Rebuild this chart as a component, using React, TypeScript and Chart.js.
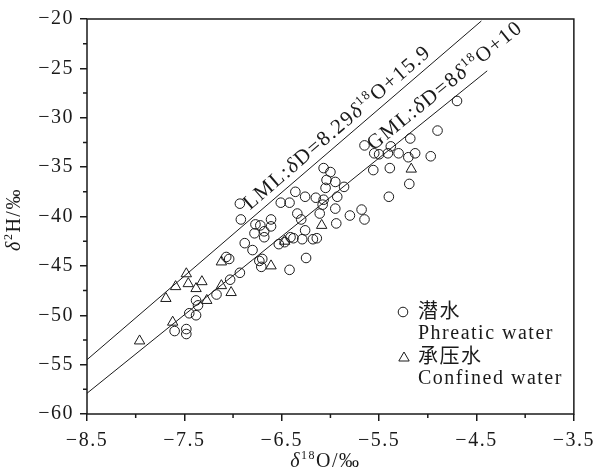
import React, { useEffect, useRef } from 'react';
import { Chart, registerables } from 'chart.js';

Chart.register(...registerables);

const FONT = '"Liberation Serif", "Times New Roman", "Noto Sans CJK SC", serif';
const INK = '#1a1a1a';

// 潜水 Phreatic water
const phreaticX = [
  -7.60, -7.48, -7.48, -7.45, -7.38, -7.38, -7.36, -7.17, -7.03, -6.93, -7.07, -7.04, -6.88, -6.80, -6.73, -6.70, -6.71, -6.78, -6.68, -6.53, -6.42, -6.41, -6.38,
  -6.93, -6.92, -6.77, -6.72, -6.61, -6.61, -6.68, -6.47,
  -6.36, -6.26, -6.51, -6.42, -6.34, -6.30, -6.29, -6.18, -6.26, -6.25, -6.15, -6.07, -6.07, -6.00, -6.04, -5.95, -5.86, -6.05, -5.93, -6.08, -5.95, -6.11, -5.80, -5.68, -5.65, -5.94, -6.14,
  -5.65, -5.55, -5.50, -5.56, -5.41, -5.38, -5.30, -5.20, -5.13, -4.97, -5.39, -5.19, -5.40, -4.70, -4.90, -5.18,
];
const phreaticY = [
  -51.6, -51.4, -51.9, -49.8, -50.0, -48.5, -49.0, -47.9, -46.4, -45.7, -44.1, -44.3, -42.7, -43.4, -44.5, -44.3, -45.1, -41.7, -42.1, -42.8, -45.4, -42.1, -42.2,
  -38.7, -40.3, -40.8, -40.9, -40.3, -41.0, -41.5, -42.6,
  -37.5, -38.0, -38.6, -38.6, -39.7, -40.3, -42.3, -42.3, -41.4, -44.2, -38.1, -38.3, -35.1, -35.5, -36.3, -36.5, -37.0, -37.1, -38.0, -38.8, -39.2, -39.7, -39.9, -39.3, -40.3, -40.7, -42.2,
  -32.8, -33.6, -33.7, -35.3, -33.6, -32.9, -33.6, -34.0, -33.6, -33.9, -35.1, -36.7, -38.0, -28.3, -31.3, -32.1,
];

// 承压水 Confined water
const confinedX = [-7.96, -7.69, -7.62, -7.59, -7.48, -7.46, -7.38, -7.32, -7.27, -7.12, -7.02, -7.12, -6.61, -6.47, -6.09, -5.17];
const confinedY = [-52.6, -48.3, -50.7, -47.1, -45.8, -46.8, -47.3, -46.6, -48.5, -47.0, -47.7, -44.6, -45.0, -42.5, -40.9, -35.2];

// Reference lines (end points)
const lmlX = [-8.5, -4.45];
const lmlY = [-54.5, -20.2];
const gmlX = [-8.5, -4.39];
const gmlY = [-57.9, -25.25];

const xTicks = [-8.5, -7.5, -6.5, -5.5, -4.5, -3.5];
const xMinorTicks = [-8, -7, -6, -5, -4];
const yTicks = [-60, -55, -50, -45, -40, -35, -30, -25, -20];
const yMinorTicks = [-57.5, -52.5, -47.5, -42.5, -37.5, -32.5, -27.5, -22.5];

const legendZh = ['潜水', '承压水'];
const legendEn = ['Phreatic water', 'Confined water'];

type Seg = { t: string; it?: boolean; sup?: boolean };

const lmlLabel: Seg[] = [
  { t: 'LML:' }, { t: 'δ', it: true }, { t: 'D=8.29' }, { t: 'δ', it: true }, { t: '18', sup: true }, { t: 'O+15.9' },
];
const gmlLabel: Seg[] = [
  { t: 'GML:' }, { t: 'δ', it: true }, { t: 'D=8' }, { t: 'δ', it: true }, { t: '18', sup: true }, { t: 'O+10' },
];
const xTitle: Seg[] = [{ t: 'δ', it: true }, { t: '18', sup: true }, { t: 'O/‰' }];
const yTitle: Seg[] = [{ t: 'δ', it: true }, { t: '2', sup: true }, { t: 'H/‰' }];

const zip = (xs: number[], ys: number[]) => xs.map((v, i) => ({ x: v, y: ys[i] }));
const fmt = (v: number) => String(v).replace('-', '\u2212');

function drawRich(ctx: any, segs: Seg[], x: number, y: number, size: number, align: 'left' | 'center') {
  const fontFor = (s: Seg) => `${s.it ? 'italic ' : ''}${s.sup ? Math.round(size * 0.6) : size}px ${FONT}`;
  let total = 0;
  const widths = segs.map((s) => {
    ctx.font = fontFor(s);
    const w = ctx.measureText(s.t).width;
    total += w;
    return w;
  });
  let cx = align === 'center' ? x - total / 2 : x;
  segs.forEach((s, i) => {
    ctx.font = fontFor(s);
    ctx.fillText(s.t, cx, s.sup ? y - size * 0.38 : y);
    cx += widths[i];
  });
}

const decor = {
  id: 'decor',
  beforeDraw(chart: any) {
    chart.ctx.letterSpacing = '1.5px';
  },
  afterDraw(chart: any) {
    const { ctx, chartArea: a, scales } = chart;
    const xs = scales.x;
    const ys = scales.y;
    ctx.save();
    ctx.letterSpacing = '1.5px';
    ctx.strokeStyle = INK;
    ctx.lineWidth = 1.5;
    ctx.strokeRect(a.left, a.top, a.right - a.left, a.bottom - a.top);

    ctx.beginPath();
    xMinorTicks.forEach((v) => {
      const px = xs.getPixelForValue(v);
      ctx.moveTo(px, a.bottom);
      ctx.lineTo(px, a.bottom + 4);
    });
    yMinorTicks.forEach((v) => {
      const py = ys.getPixelForValue(v);
      ctx.moveTo(a.left, py);
      ctx.lineTo(a.left - 4, py);
    });
    ctx.stroke();

    ctx.fillStyle = INK;
    ctx.textBaseline = 'alphabetic';
    ctx.textAlign = 'left';

    // axis titles
    drawRich(ctx, xTitle, (a.left + a.right) / 2 - 5, 467, 20, 'center');
    ctx.save();
    ctx.translate(20, (a.top + a.bottom) / 2 + 3);
    ctx.rotate(-Math.PI / 2);
    drawRich(ctx, yTitle, 0, 0, 20, 'center');
    ctx.restore();

    // line labels
    const labels = [
      { lx: lmlX, ly: lmlY, segs: lmlLabel, start: -6.78, gap: 7 },
      { lx: gmlX, ly: gmlY, segs: gmlLabel, start: -5.5, gap: 9 },
    ];
    labels.forEach((L) => {
      const p0x = xs.getPixelForValue(L.lx[0]);
      const p0y = ys.getPixelForValue(L.ly[0]);
      const p1x = xs.getPixelForValue(L.lx[1]);
      const p1y = ys.getPixelForValue(L.ly[1]);
      const sx = xs.getPixelForValue(L.start);
      const t = (sx - p0x) / (p1x - p0x);
      const ay = p0y + t * (p1y - p0y);
      const ang = Math.atan2(p1y - p0y, p1x - p0x);
      ctx.save();
      ctx.translate(sx, ay);
      ctx.rotate(ang);
      drawRich(ctx, L.segs, 0, -L.gap, 21, 'left');
      ctx.restore();
    });

    // legend
    ctx.lineWidth = 1;
    ctx.beginPath();
    ctx.arc(403, 312, 4.8, 0, Math.PI * 2);
    ctx.stroke();
    ctx.beginPath();
    const tr = 6;
    const tcx = 404;
    const tcy = 358;
    ctx.moveTo(tcx, tcy - tr);
    ctx.lineTo(tcx + tr * 0.866, tcy + tr * 0.5);
    ctx.lineTo(tcx - tr * 0.866, tcy + tr * 0.5);
    ctx.closePath();
    ctx.stroke();
    ctx.textBaseline = 'middle';
    ctx.font = `20px ${FONT}`;
    ctx.fillText(legendZh[0], 418, 313);
    ctx.fillText(legendEn[0], 418, 334);
    ctx.fillText(legendZh[1], 418, 358);
    ctx.fillText(legendEn[1], 418, 379);
    ctx.restore();
  },
};

export default function App() {
  const ref = useRef<HTMLCanvasElement | null>(null);
  useEffect(() => {
    if (!ref.current) return;
    const chart = new Chart(ref.current, {
      type: 'scatter',
      data: {
        datasets: [
          {
            label: 'LML',
            data: zip(lmlX, lmlY),
            showLine: true,
            borderColor: INK,
            borderWidth: 1,
            pointRadius: 0,
            fill: false,
          },
          {
            label: 'GML',
            data: zip(gmlX, gmlY),
            showLine: true,
            borderColor: INK,
            borderWidth: 1,
            pointRadius: 0,
            fill: false,
          },
          {
            label: legendEn[0],
            data: zip(phreaticX, phreaticY),
            pointStyle: 'circle',
            pointRadius: 4.8,
            borderColor: INK,
            borderWidth: 1,
            backgroundColor: 'rgba(0,0,0,0)',
          },
          {
            label: legendEn[1],
            data: zip(confinedX, confinedY),
            pointStyle: 'triangle',
            pointRadius: 6,
            borderColor: INK,
            borderWidth: 1,
            backgroundColor: 'rgba(0,0,0,0)',
          },
        ],
      },
      options: {
        animation: false,
        responsive: true,
        maintainAspectRatio: false,
        layout: { padding: { top: 19, right: 21, left: 0, bottom: 0 } },
        plugins: { legend: { display: false }, tooltip: { enabled: false } },
        scales: {
          x: {
            type: 'linear',
            min: -8.5,
            max: -3.5,
            afterBuildTicks: (s: any) => { s.ticks = xTicks.map((v) => ({ value: v })); },
            afterFit: (s: any) => { s.height = 56; },
            border: { display: false },
            grid: { drawOnChartArea: false, drawTicks: true, tickLength: 7, color: INK, lineWidth: 1.5 },
            ticks: {
              padding: 8,
              color: INK,
              font: { family: FONT, size: 20 },
              callback: (v: any) => fmt(Number(v)),
              maxRotation: 0,
              autoSkip: false,
            },
          },
          y: {
            type: 'linear',
            min: -60,
            max: -20,
            afterBuildTicks: (s: any) => { s.ticks = yTicks.map((v) => ({ value: v })); },
            afterFit: (s: any) => { s.width = 87; },
            border: { display: false },
            grid: { drawOnChartArea: false, drawTicks: true, tickLength: 7, color: INK, lineWidth: 1.5 },
            ticks: {
              padding: 6,
              color: INK,
              font: { family: FONT, size: 20 },
              callback: (v: any) => fmt(Number(v)),
              autoSkip: false,
            },
          },
        },
      },
      plugins: [decor],
    } as any);
    return () => chart.destroy();
  }, []);
  return (
    <div style={{ position: 'absolute', left: 0, top: 0, width: 600, height: 470, background: '#fff' }}>
      <canvas ref={ref} />
    </div>
  );
}
